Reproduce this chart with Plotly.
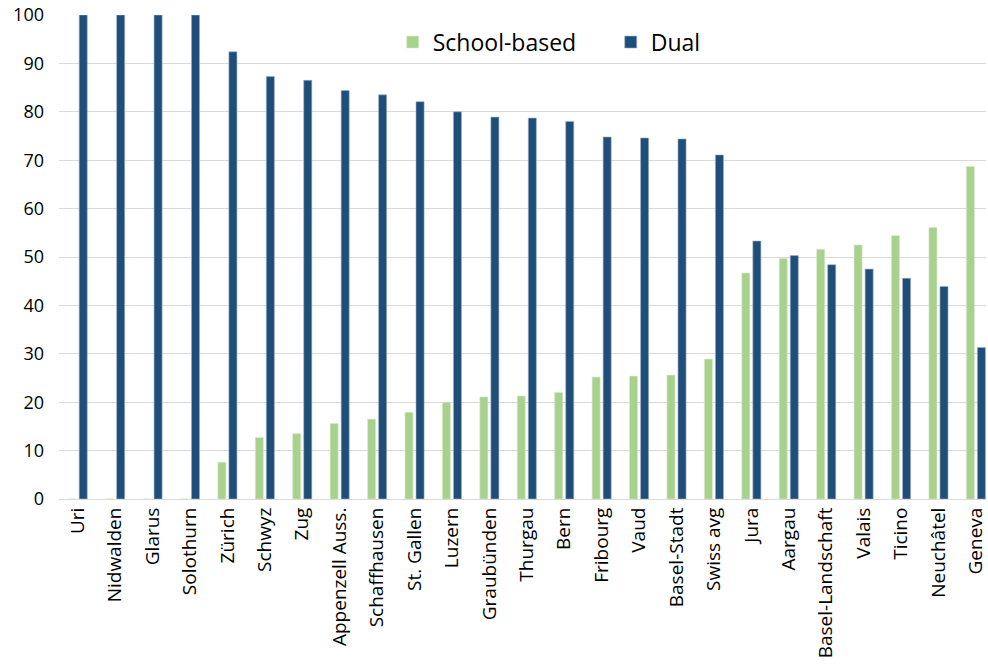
import plotly.graph_objects as go

cantons = ["Uri", "Nidwalden", "Glarus", "Solothurn", "Zürich", "Schwyz", "Zug",
           "Appenzell Auss.", "Schaffhausen", "St. Gallen", "Luzern", "Graubünden",
           "Thurgau", "Bern", "Fribourg", "Vaud", "Basel-Stadt", "Swiss avg", "Jura",
           "Aargau", "Basel-Landschaft", "Valais", "Ticino", "Neuchâtel", "Geneva"]
school_based = [0, 0, 0, 0, 7.6, 12.7, 13.5, 15.6, 16.5, 17.9, 20.0, 21.1,
                21.3, 22.0, 25.2, 25.4, 25.6, 28.9, 46.7, 49.7, 51.6, 52.5, 54.4, 56.1, 68.7]
dual = [100, 100, 100, 100, 92.4, 87.3, 86.5, 84.4, 83.5, 82.1, 80.0, 78.9,
        78.7, 78.0, 74.8, 74.6, 74.4, 71.1, 53.3, 50.3, 48.4, 47.5, 45.6, 43.9, 31.3]
y_ticks = [0, 10, 20, 30, 40, 50, 60, 70, 80, 90, 100]

FONT = "Open Sans"

fig = go.Figure()
fig.add_bar(x=cantons, y=school_based, name="School-based",
            marker=dict(color="#A9D18E", line=dict(color="#D6EBC8", width=0.6)))
fig.add_bar(x=cantons, y=dual, name="Dual",
            marker=dict(color="#1F4E79", line=dict(color="#9DB1C8", width=0.6)))

fig.update_layout(
    width=988, height=668,
    margin=dict(l=59, r=0, t=15, b=169),
    paper_bgcolor="white", plot_bgcolor="white",
    barmode="group", bargap=0.41, bargroupgap=0.27,
    font=dict(family=FONT, color="#000000", size=19),
    legend=dict(orientation="h", x=0.36, y=0.944, xanchor="left", yanchor="middle",
                font=dict(family=FONT, size=23, color="#000000"),
                bgcolor="rgba(0,0,0,0)", itemwidth=30, entrywidth=173,
                entrywidthmode="pixels", tracegroupgap=0),
    xaxis=dict(range=[-0.5, 24.27], tickangle=-90, showgrid=False,
               showline=True, linecolor="#D9D9D9", linewidth=1,
               ticks="", tickfont=dict(family=FONT, size=19, color="#000000")),
    yaxis=dict(range=[0, 100], tickvals=y_ticks, showgrid=True, gridcolor="#D9D9D9",
               gridwidth=1, zeroline=False, showline=False, ticks="",
               ticklabelstandoff=14,
               tickfont=dict(family=FONT, size=18, color="#000000")),
)

fig.write_html("out.html")
